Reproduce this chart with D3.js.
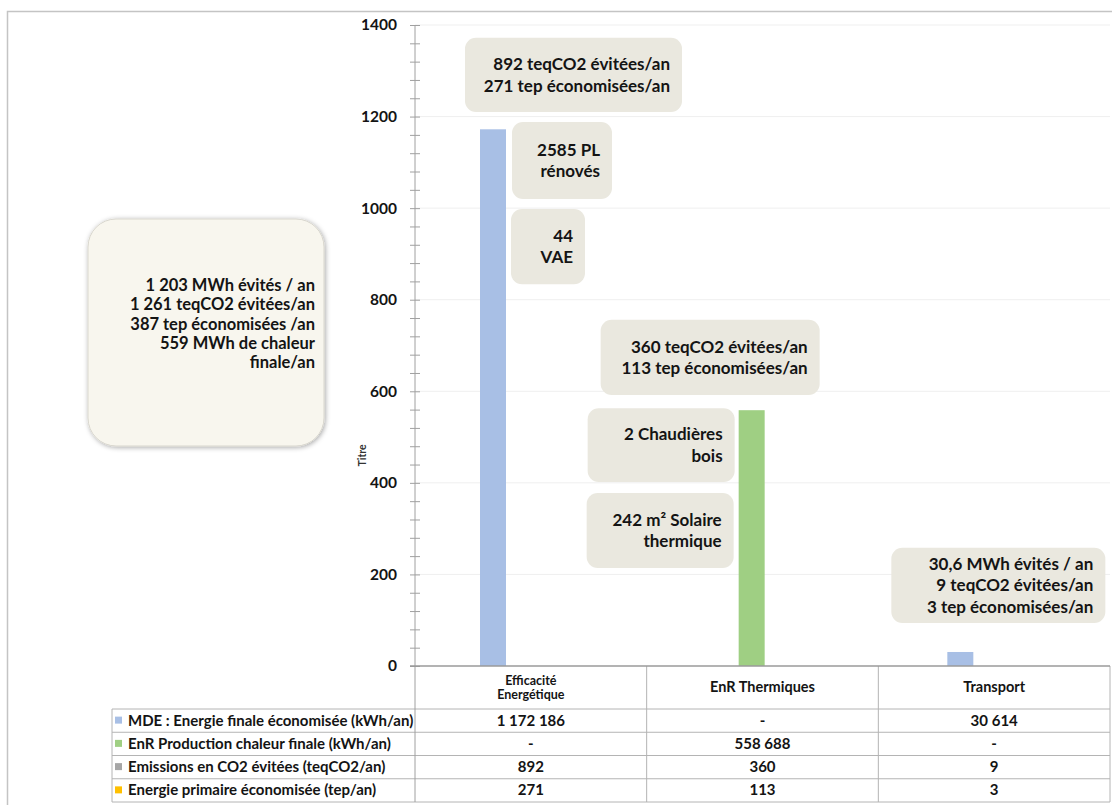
<!DOCTYPE html>
<html>
<head>
<meta charset="utf-8">
<script src="https://cdn.jsdelivr.net/npm/d3@7"></script>
<style>
  body { margin: 0; background: #fff; }
  svg { display: block; font-family: Lato, "Open Sans", sans-serif; }
</style>
</head>
<body>
<script>
// ---- data ----
const categories = ["Efficacité Energétique", "EnR Thermiques", "Transport"];
const categoryLines = [["Efficacité", "Energétique"], ["EnR Thermiques"], ["Transport"]];
const seriesNames = [
    "MDE : Energie finale économisée (kWh/an)",
    "EnR Production chaleur finale (kWh/an)",
    "Emissions en CO2 évitées (teqCO2/an)",
    "Energie primaire économisée (tep/an)"
];
const mdeKWh = [1172186, null, 30614];
const enrKWh = [null, 558688, null];
const co2Avoided = [892, 360, 9];
const tepSaved = [271, 113, 3];
const yTicks = [0, 200, 400, 600, 800, 1000, 1200, 1400];
const seriesColors = ["#a8bfe5", "#9fcf83", "#a6a6a6", "#ffc000"];

const totalLines = [
    "1 203 MWh évités / an",
    "1 261 teqCO2 évitées/an",
    "387 tep économisées /an",
    "559 MWh de chaleur",
    "finale/an"
];

// annotation boxes: category index, horizontal offset from band start,
// width, top/bottom in axis units
const notes = [
    {cat: 0, dx: 50, w: 217, top: 1372, bottom: 1210, lines: ["892 teqCO2 évitées/an", "271 tep économisées/an"]},
    {cat: 0, dx: 97, w: 100, top: 1188, bottom: 1020, lines: ["2585 PL", "rénovés"]},
    {cat: 0, dx: 96, w: 74, top: 998, bottom: 834, lines: ["44", "VAE"]},
    {cat: 1, dx: -46, w: 219, top: 756, bottom: 592, lines: ["360 teqCO2 évitées/an", "113 tep économisées/an"]},
    {cat: 1, dx: -59, w: 147, top: 563, bottom: 402, lines: ["2 Chaudières", "bois"]},
    {cat: 1, dx: -60, w: 147, top: 378, bottom: 214, lines: ["242 m² Solaire", "thermique"]},
    {cat: 2, dx: 13, w: 214, top: 258, bottom: 94, lines: ["30,6 MWh évités / an", "9 teqCO2 évitées/an", "3 tep économisées/an"]}
];

// ---- layout ----
const width = 1112;
const height = 805;
const axisX = 415;
const tableRight = 1110;
const zeroY = 666;
const headerBottom = 709;
const rowH = 23.25;
const rowLeft = 112;
// bars sit off-centre in their columns in the original
const barCenter = [78, 105, 82];
const barWidth = 26;
const ink = "#141414";

const svg = d3.select("body").append("svg")
    .attr("width", width)
    .attr("height", height);

const defs = svg.append("defs");
const shadow = defs.append("filter").attr("id", "soft")
    .attr("x", "-10%").attr("y", "-10%").attr("width", "120%").attr("height", "120%");
shadow.append("feDropShadow")
    .attr("dx", 1).attr("dy", 1).attr("stdDeviation", 2.5)
    .attr("flood-color", "#000").attr("flood-opacity", 0.35);

// outer frame (top and left edges visible)
svg.append("path")
    .attr("d", `M7.5,${height} V11.5 H${width}`)
    .attr("fill", "none")
    .attr("stroke", "#c4c4c4")
    .attr("stroke-width", 1.5);

const x = d3.scaleBand()
    .domain(categories)
    .range([axisX, tableRight]);

const y = d3.scaleLinear()
    .domain([0, 1400])
    .range([zeroY, 25]);

// gridlines
svg.append("g")
    .selectAll("line")
    .data(yTicks.filter(d => d > 0))
    .join("line")
    .attr("x1", axisX).attr("x2", tableRight)
    .attr("y1", d => y(d)).attr("y2", d => y(d))
    .attr("stroke", "#efefef");

// y axis with minor ticks every 40
const yAxis = d3.axisLeft(y)
    .tickValues(d3.range(0, 1401, 40))
    .tickSize(0)
    .tickPadding(18)
    .tickFormat(d => d % 200 === 0 ? d : "");

const axisG = svg.append("g")
    .attr("transform", `translate(${axisX},0)`)
    .call(yAxis);
axisG.select(".domain").remove();
axisG.selectAll(".tick text")
    .attr("font-family", "Lato, sans-serif")
    .attr("font-weight", "bold")
    .attr("font-size", 15.5)
    .attr("fill", ink);
axisG.selectAll(".tick").append("line")
    .attr("x1", -5).attr("x2", 5)
    .attr("stroke", "#a0a0a0");
axisG.append("line")
    .attr("y1", y(1400)).attr("y2", zeroY)
    .attr("stroke", "#a0a0a0");

svg.append("text")
    .attr("transform", `translate(366,${y(460)}) rotate(-90)`)
    .attr("text-anchor", "middle")
    .attr("font-size", 10.5)
    .attr("font-weight", "bold")
    .attr("fill", "#333")
    .text("Titre");

// bars
const barData = categories.map((c, i) => ({
    cat: c,
    i: i,
    value: (mdeKWh[i] != null ? mdeKWh[i] : enrKWh[i]) / 1000,
    color: mdeKWh[i] != null ? seriesColors[0] : seriesColors[1]
}));

svg.append("g")
    .selectAll("rect")
    .data(barData)
    .join("rect")
    .attr("x", d => x(d.cat) + barCenter[d.i] - barWidth / 2)
    .attr("y", d => y(d.value))
    .attr("width", barWidth)
    .attr("height", d => y(0) - y(d.value))
    .attr("fill", d => d.color);

// annotation boxes
const noteG = svg.append("g")
    .selectAll("g")
    .data(notes)
    .join("g");

noteG.append("rect")
    .attr("x", d => x(categories[d.cat]) + d.dx)
    .attr("y", d => y(d.top))
    .attr("width", d => d.w)
    .attr("height", d => y(d.bottom) - y(d.top))
    .attr("rx", 11)
    .attr("fill", "#eae8df");

noteG.each(function (d) {
    const g = d3.select(this);
    const cy = (y(d.top) + y(d.bottom)) / 2;
    const lh = 21.5;
    const first = cy - (d.lines.length - 1) * lh / 2 + 6;
    g.append("text")
        .attr("text-anchor", "end")
        .attr("font-size", 17)
        .attr("font-weight", "bold")
        .attr("fill", ink)
        .selectAll("tspan")
        .data(d.lines)
        .join("tspan")
        .attr("x", x(categories[d.cat]) + d.dx + d.w - 12)
        .attr("y", (t, k) => first + k * lh)
        .text(t => t);
});

// totals box on the left
svg.append("rect")
    .attr("x", 88).attr("y", 219)
    .attr("width", 236).attr("height", 227)
    .attr("rx", 28)
    .attr("fill", "#f8f6ee")
    .attr("stroke", "#d9d7ce")
    .attr("filter", "url(#soft)");

svg.append("text")
    .attr("text-anchor", "end")
    .attr("font-size", 16.5)
    .attr("font-weight", "bold")
    .attr("fill", ink)
    .selectAll("tspan")
    .data(totalLines)
    .join("tspan")
    .attr("x", 315)
    .attr("y", (t, k) => 291 + k * 19.3)
    .text(t => t);

// ---- data table ----
const fr = d3.formatLocale({decimal: ",", thousands: "\u202f", grouping: [3], currency: ["", " €"]});
const fmt = v => v == null ? "-" : fr.format(",")(v);
const tableRows = [mdeKWh, enrKWh, co2Avoided, tepSaved];

const table = svg.append("g");
const lineColor = "#b4b4b4";

// horizontal rules
d3.range(tableRows.length + 1).forEach(r => {
    table.append("line")
        .attr("x1", rowLeft).attr("x2", tableRight)
        .attr("y1", headerBottom + r * rowH).attr("y2", headerBottom + r * rowH)
        .attr("stroke", lineColor);
});
// vertical rules
table.append("line")
    .attr("x1", rowLeft).attr("x2", rowLeft)
    .attr("y1", headerBottom).attr("y2", headerBottom + tableRows.length * rowH)
    .attr("stroke", lineColor);
categories.forEach(c => {
    table.append("line")
        .attr("x1", x(c) + x.bandwidth()).attr("x2", x(c) + x.bandwidth())
        .attr("y1", zeroY).attr("y2", headerBottom + tableRows.length * rowH)
        .attr("stroke", lineColor);
});
table.append("line")
    .attr("x1", axisX).attr("x2", axisX)
    .attr("y1", zeroY).attr("y2", headerBottom + tableRows.length * rowH)
    .attr("stroke", "#a0a0a0");

// header (wrapped labels are set a little smaller, as in the original)
categories.forEach((c, i) => {
    const lines = categoryLines[i];
    const multi = lines.length > 1;
    const cy = (zeroY + headerBottom) / 2;
    table.append("text")
        .attr("text-anchor", "middle")
        .attr("font-size", multi ? 12.5 : 14.5)
        .attr("font-weight", "bold")
        .attr("fill", ink)
        .selectAll("tspan")
        .data(lines)
        .join("tspan")
        .attr("x", x(c) + x.bandwidth() / 2)
        .attr("y", (t, k) => cy + 4.5 + (k - (lines.length - 1) / 2) * 14)
        .text(t => t);
});

// rows
tableRows.forEach((row, r) => {
    const cy = headerBottom + r * rowH + rowH / 2;
    table.append("rect")
        .attr("x", 115).attr("y", cy - 4)
        .attr("width", 7).attr("height", 7)
        .attr("fill", seriesColors[r]);
    table.append("text")
        .attr("x", 128).attr("y", cy + 5)
        .attr("font-size", 15)
        .attr("font-weight", "bold")
        .attr("fill", ink)
        .text(seriesNames[r]);
    row.forEach((v, i) => {
        table.append("text")
            .attr("x", x(categories[i]) + x.bandwidth() / 2)
            .attr("y", cy + 5)
            .attr("text-anchor", "middle")
            .attr("font-size", 15)
            .attr("font-weight", "bold")
            .attr("fill", ink)
            .text(fmt(v));
    });
});

// axis line along zero, drawn last
svg.append("line")
    .attr("x1", axisX - 5).attr("x2", tableRight)
    .attr("y1", zeroY).attr("y2", zeroY)
    .attr("stroke", "#9a9a9a")
    .attr("stroke-width", 1.5);
</script>
</body>
</html>
